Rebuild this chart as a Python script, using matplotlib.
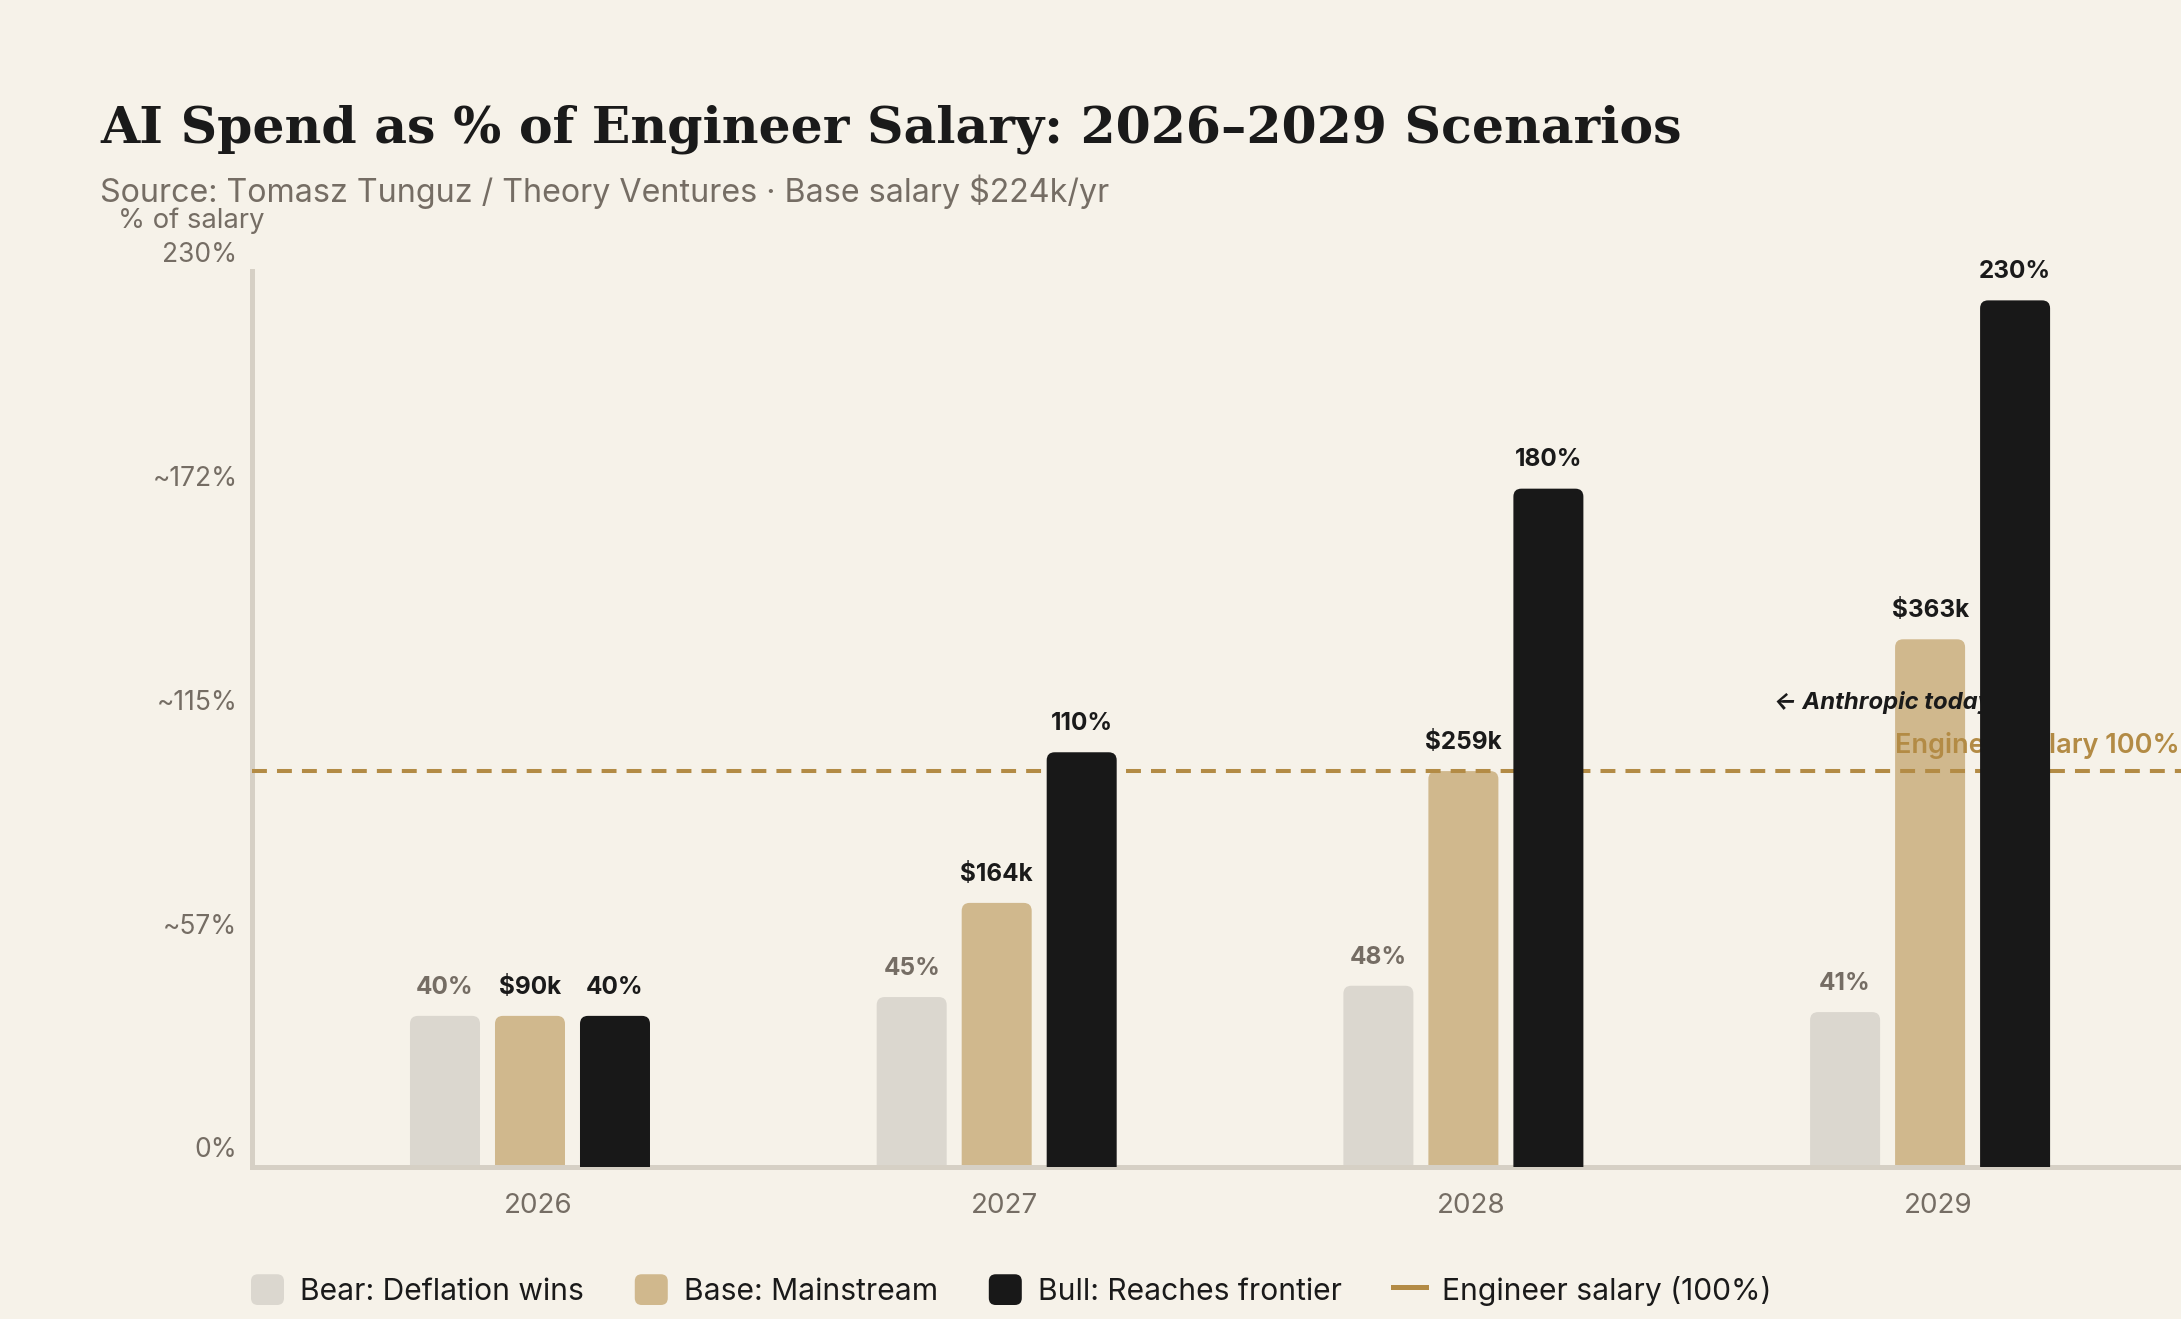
import matplotlib
matplotlib.use('Agg')
import matplotlib.pyplot as plt
import matplotlib.transforms as mtransforms
from matplotlib.patches import FancyBboxPatch, Patch
from matplotlib.lines import Line2D
from matplotlib.legend_handler import HandlerPatch
import numpy as np

# data
years = ['2026', '2027', '2028', '2029']
bear = [40, 45, 48, 41]
base = [40, 70, 105, 140]
bull = [40, 110, 180, 230]
bear_labels = ['40%', '45%', '48%', '41%']
base_labels = ['$90k', '$164k', '$259k', '$363k']
bull_labels = ['40%', '110%', '180%', '230%']
salary_line = 105
ytick_labels = ['0%', '~57%', '~115%', '~172%', '230%']
series_names = ['Bear: Deflation wins', 'Base: Mainstream', 'Bull: Reaches frontier']

# colours
BG = '#f6f2e9'
C_BEAR = '#dbd7cf'
C_BASE = '#d0b88d'
C_BULL = '#181818'
GOLD = '#b38b45'
GRAY = '#756d64'
DARK = '#1a1a1a'
SPINE = '#d6d0c5'

plt.rcParams['font.family'] = ['Inter', 'DejaVu Sans']

W, H = 2181, 1319
fig = plt.figure(figsize=(W / 100, H / 100), dpi=100, facecolor=BG)

# axes placed in pixel terms of the reference
ax_left, ax_right, ax_top, ax_bot = 252, 2181, 271, 1166.5
ax = fig.add_axes([ax_left / W, 1 - ax_bot / H, (ax_right - ax_left) / W, (ax_bot - ax_top) / H])
ax.set_facecolor(BG)

xlim = (-0.6128, 3.5205)
ylim = (0, 237.8)
ax.set_xlim(*xlim)
ax.set_ylim(*ylim)

px_x = (ax_right - ax_left) / (xlim[1] - xlim[0])
px_y = (ax_bot - ax_top) / (ylim[1] - ylim[0])

bar_w = 70 / px_x
step = 85 / px_x
shift = -8 / px_x
x = np.arange(len(years))

radius_px = 8
rx = radius_px / px_x
ry = radius_px / px_y


def round_bars(bars, color, zorder):
    # swap the square bars for ones with rounded tops
    for b in bars:
        bx, bw, bh = b.get_x(), b.get_width(), b.get_height()
        b.remove()
        p = FancyBboxPatch((bx, -ry), bw, bh + ry,
                           boxstyle=f'round,pad=0,rounding_size={rx}',
                           mutation_aspect=ry / rx, fc=color, ec='none',
                           zorder=zorder)
        ax.add_patch(p)


b1 = ax.bar(x + shift - step, bear, width=bar_w)
b2 = ax.bar(x + shift, base, width=bar_w)
b3 = ax.bar(x + shift + step, bull, width=bar_w)
round_bars(b1, C_BEAR, 2)
round_bars(b2, C_BASE, 2)
round_bars(b3, C_BULL, 4)

# labels over the bars
for xs, vals, labs, col in [(x + shift - step, bear, bear_labels, GRAY),
                            (x + shift, base, base_labels, DARK),
                            (x + shift + step, bull, bull_labels, DARK)]:
    for xi, v, t in zip(xs, vals, labs):
        ax.annotate(t, (xi, v), xytext=(0, 16), textcoords='offset points',
                    ha='center', va='baseline', fontsize=17.5, fontweight='bold',
                    color=col, zorder=5)

# salary reference line
ax.axhline(salary_line, color=GOLD, lw=2.9, linestyle=(0, (3.7, 2.5)), zorder=3)
trans = mtransforms.blended_transform_factory(ax.transAxes, ax.transData)
ax.text(0.9995, 109.7, 'Engineer salary 100%', transform=trans, ha='right',
        va='baseline', fontsize=19.5, fontweight='semibold', color=GOLD, zorder=3)
ax.text(2.649, 121.6, '\u2190 Anthropic today', ha='left', va='baseline',
        fontsize=17.2, fontweight='bold', fontstyle='italic', color=DARK, zorder=3)

# axes styling
for s in ['top', 'right']:
    ax.spines[s].set_visible(False)
for s in ['left', 'bottom']:
    ax.spines[s].set_color(SPINE)
    ax.spines[s].set_linewidth(3.6)
ax.set_yticks([])
ax.set_xticks(x, years)
ax.tick_params(axis='x', length=0, pad=19, labelsize=20, labelcolor=GRAY)

# hand placed y labels, evenly spread along the axis
for i, t in enumerate(ytick_labels):
    ax.text(-0.0075, i / 4 + 0.018, t, transform=ax.transAxes, ha='right',
            va='center', fontsize=19, color=GRAY)

# titles
fig.text(100 / W, 1 - 143 / H, 'AI Spend as % of Engineer Salary: 2026\u20132029 Scenarios',
         family='DejaVu Serif', fontweight='bold', fontsize=36.4, color=DARK,
         va='baseline', ha='left')
fig.text(100 / W, 1 - 202 / H, 'Source: Tomasz Tunguz / Theory Ventures \u00b7 Base salary $224k/yr',
         fontsize=23.2, color=GRAY, va='baseline', ha='left')
fig.text(118 / W, 1 - 221 / H, '% of salary', fontsize=19.7, color=GRAY,
         va='center', ha='left')


# legend with rounded swatches
def rounded_patch(legend, orig_handle, xdescent, ydescent, width, height, fontsize):
    return FancyBboxPatch((-xdescent, -ydescent), width, height,
                          boxstyle='round,pad=0,rounding_size=5')


handles = [Patch(fc=C_BEAR, ec='none'), Patch(fc=C_BASE, ec='none'),
           Patch(fc=C_BULL, ec='none'),
           Line2D([], [], color=GOLD, lw=3.6)]
labels = series_names + ['Engineer salary (100%)']
fig.legend(handles, labels, loc='center left', bbox_to_anchor=(251 / W, 1 - 1290 / H),
           ncol=4, frameon=False, fontsize=21.6, handlelength=1.1, handleheight=1.2,
           handletextpad=0.53, columnspacing=1.7, borderpad=0, borderaxespad=0,
           labelcolor=DARK,
           handler_map={Patch: HandlerPatch(patch_func=rounded_patch)})

fig.savefig('out.png', dpi=100, facecolor=BG)
